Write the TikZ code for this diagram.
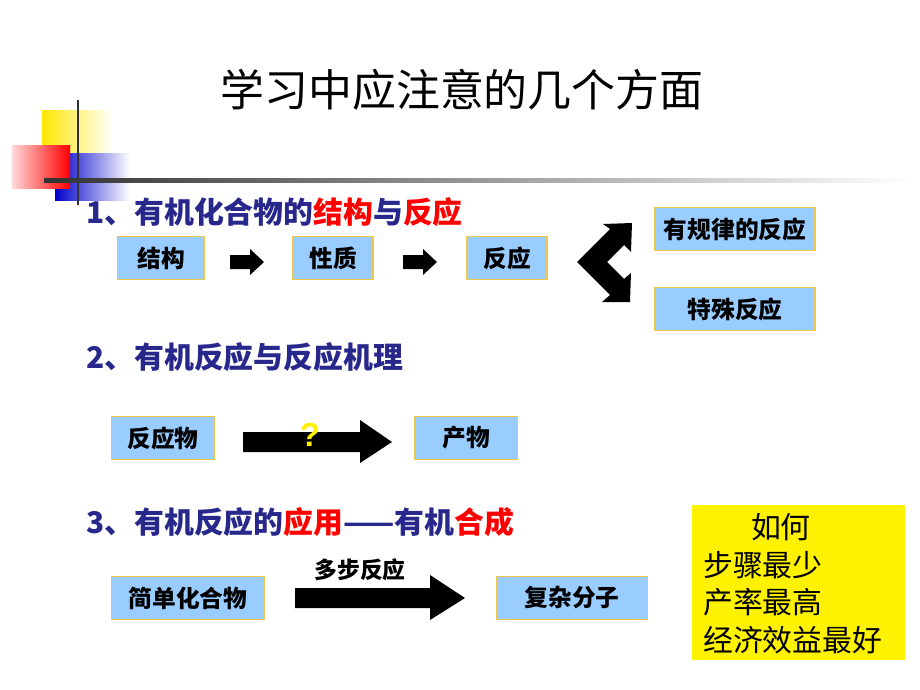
\documentclass[tikz,border=0pt]{standalone}
\usepackage{fontspec}
\setmainfont{Liberation Sans}
\newfontfamily\cjk{Noto Sans CJK SC}
\definecolor{boxblue}{RGB}{153,204,255}
\definecolor{boxedge}{RGB}{240,200,80}
\definecolor{headblue}{RGB}{40,40,140}
\definecolor{deco}{RGB}{50,50,50}
\tikzset{
  stepbox/.style={draw=boxedge,fill=boxblue,line width=0.8pt,font=\cjk\bfseries\fontsize{13.5}{15}\selectfont,text=black},
  head/.style={anchor=west,font=\cjk\bfseries\fontsize{17}{19}\selectfont,text=headblue},
  blockarrow/.style={fill=black}
}
\begin{document}
\begin{tikzpicture}[x=0.02cm,y=-0.02cm]
  \useasboundingbox (0,0) rectangle (920,690);
  % decoration
  \shade[left color=yellow!80!orange,right color=white] (42,110) rectangle (112,154);
  \shade[left color=blue!80!black,right color=white] (55,153) rectangle (130,200);
  \shade[left color=red!15,right color=red] (12,145) rectangle (70,188);
  \draw[deco,line width=1.5pt] (78,100) -- (78,205);
  \shade[left color=deco,right color=white] (44,178) rectangle (910,182);
  % title
  \node[font=\cjk\fontsize{25}{28}\selectfont] (title) at (462,90) {学习中应注意的几个方面};
  % section 1
  \node[head] (h1) at (80,212) {1、有机化合物的\textcolor{red}{结构}与\textcolor{red}{反应}};
  \node[stepbox,minimum width=87*0.02cm,minimum height=43*0.02cm] (jg) at (161,258) {结构};
  \node[stepbox,minimum width=80*0.02cm,minimum height=43*0.02cm] (xz) at (333,258) {性质};
  \node[stepbox,minimum width=80*0.02cm,minimum height=43*0.02cm] (fy) at (507,258) {反应};
  \node[stepbox,minimum width=160*0.02cm,minimum height=43*0.02cm] (gl) at (735,229) {有规律的反应};
  \node[stepbox,minimum width=160*0.02cm,minimum height=43*0.02cm] (ts) at (735,309) {特殊反应};
  \foreach \x in {230,403}
    \fill[blockarrow] (\x,255) -- (\x+20,255) -- (\x+20,249) -- (\x+34,262) -- (\x+20,275) -- (\x+20,269) -- (\x,269) -- cycle;
  \fill[blockarrow] (577,262) -- (610,229) -- (603,224) -- (632,223) -- (631,252) -- (624,245)
    -- (607,262) -- (624,279) -- (631,273) -- (630,302) -- (602,302) -- (610,295) -- cycle;
  % section 2
  \node[head] (h2) at (80,357) {2、有机反应与反应机理};
  \node[stepbox,minimum width=103*0.02cm,minimum height=43*0.02cm] (fyw) at (163,438) {反应物};
  \node[stepbox,minimum width=103*0.02cm,minimum height=43*0.02cm] (cw) at (466,438) {产物};
  \fill[blockarrow] (243,432) -- (360,432) -- (360,420) -- (392,442) -- (360,463) -- (360,452) -- (243,452) -- cycle;
  \node[font=\bfseries\fontsize{19}{21}\selectfont,text=yellow] (q) at (310,435) {?};
  % section 3
  \node[head] (h3) at (80,522) {3、有机反应的\textcolor{red}{应用}——有机\textcolor{red}{合成}};
  \node[stepbox,minimum width=153*0.02cm,minimum height=43*0.02cm] (jd) at (188,598) {简单化合物};
  \node[stepbox,minimum width=151*0.02cm,minimum height=43*0.02cm] (fz) at (572,598) {复杂分子};
  \fill[blockarrow] (295,588) -- (430,588) -- (430,575) -- (465,598) -- (430,620) -- (430,608) -- (295,608) -- cycle;
  \node[font=\cjk\bfseries\fontsize{13}{15}\selectfont] (dbfy) at (360,570) {多步反应};
  \fill[yellow] (692,505) rectangle (905,660);
  \node[anchor=north west,align=left,font=\cjk\fontsize{17}{21.5}\selectfont] (rh) at (697,507)
    {\hspace{1.6em}如何\\步骤最少\\产率最高\\经济效益最好};
\end{tikzpicture}
\end{document}
